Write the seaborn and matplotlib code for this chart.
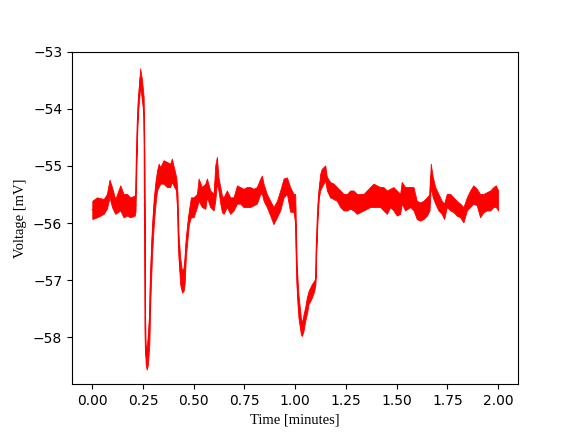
import numpy as np
import pandas as pd
import matplotlib
matplotlib.use("Agg")
import matplotlib.pyplot as plt
import seaborn as sns

# Time in minutes, with the upper and lower edge of the noisy voltage trace (mV)
time_min = [0.000, 0.023, 0.056, 0.072, 0.085, 0.097, 0.113, 0.138, 0.154, 0.171,
            0.187, 0.209, 0.213, 0.220, 0.225, 0.232, 0.236, 0.245, 0.253, 0.256,
            0.260, 0.263, 0.268, 0.274, 0.281, 0.286, 0.294, 0.302, 0.310, 0.319,
            0.327, 0.335, 0.351, 0.368, 0.384, 0.392, 0.404, 0.414, 0.420, 0.425,
            0.433, 0.442, 0.450, 0.455, 0.461, 0.470, 0.476, 0.486, 0.499, 0.516,
            0.524, 0.540, 0.557, 0.565, 0.581, 0.598, 0.606, 0.614, 0.622, 0.631,
            0.639, 0.647, 0.663, 0.680, 0.696, 0.713, 0.729, 0.745, 0.762, 0.778,
            0.795, 0.811, 0.828, 0.836, 0.844, 0.860, 0.877, 0.893, 0.910, 0.926,
            0.943, 0.959, 0.975, 0.992, 1.000, 1.008, 1.016, 1.028, 1.033, 1.041,
            1.049, 1.057, 1.066, 1.074, 1.082, 1.094, 1.100, 1.103, 1.107, 1.112,
            1.117, 1.123, 1.131, 1.140, 1.148, 1.156, 1.172, 1.189, 1.205, 1.222,
            1.238, 1.255, 1.271, 1.287, 1.304, 1.320, 1.337, 1.353, 1.369, 1.386,
            1.402, 1.419, 1.435, 1.452, 1.468, 1.484, 1.501, 1.517, 1.525, 1.542,
            1.567, 1.583, 1.599, 1.616, 1.632, 1.649, 1.662, 1.668, 1.678, 1.690,
            1.706, 1.722, 1.734, 1.747, 1.764, 1.780, 1.796, 1.813, 1.829, 1.846,
            1.862, 1.878, 1.895, 1.911, 1.928, 1.944, 1.961, 1.977, 1.989, 2.000]

voltage_high = [-55.61, -55.55, -55.58, -55.49, -55.24, -55.37, -55.58, -55.34, -55.49, -55.49,
                -55.55, -55.52, -55.43, -54.37, -53.85, -53.49, -53.29, -53.49, -53.79, -54.49,
                -57.60, -58.13, -58.20, -57.95, -57.54, -56.78, -56.08, -55.61, -55.31, -55.08,
                -54.96, -55.02, -54.90, -54.93, -54.96, -54.87, -55.05, -55.20, -55.49, -56.19,
                -56.60, -56.84, -56.78, -56.60, -56.25, -55.96, -55.78, -55.55, -55.55, -55.49,
                -55.22, -55.37, -55.31, -55.22, -55.43, -55.49, -54.99, -54.84, -55.20, -55.37,
                -55.52, -55.55, -55.43, -55.55, -55.55, -55.34, -55.37, -55.40, -55.37, -55.37,
                -55.40, -55.37, -55.22, -55.17, -55.31, -55.49, -55.61, -55.72, -55.61, -55.43,
                -55.22, -55.20, -55.37, -55.49, -55.49, -56.78, -57.25, -57.66, -57.75, -57.60,
                -57.48, -57.31, -57.19, -57.13, -57.07, -57.01, -56.96, -56.49, -56.02, -55.61,
                -55.37, -55.14, -55.05, -55.02, -54.99, -55.19, -55.28, -55.31, -55.37, -55.43,
                -55.49, -55.49, -55.43, -55.43, -55.49, -55.49, -55.49, -55.43, -55.37, -55.31,
                -55.34, -55.37, -55.37, -55.43, -55.40, -55.37, -55.43, -55.49, -55.28, -55.37,
                -55.37, -55.37, -55.61, -55.64, -55.61, -55.55, -55.49, -54.96, -55.19, -55.37,
                -55.49, -55.61, -55.66, -55.49, -55.49, -55.55, -55.61, -55.66, -55.72, -55.55,
                -55.43, -55.34, -55.40, -55.49, -55.49, -55.46, -55.43, -55.37, -55.34, -55.43]

voltage_low = [-55.93, -55.90, -55.84, -55.75, -55.55, -55.72, -55.84, -55.78, -55.90, -55.87,
               -55.90, -55.87, -55.80, -54.55, -54.08, -53.79, -53.61, -53.85, -54.14, -54.80,
               -58.10, -58.48, -58.57, -58.48, -58.13, -57.37, -56.60, -56.08, -55.72, -55.43,
               -55.37, -55.31, -55.31, -55.37, -55.37, -55.28, -55.37, -55.43, -55.90, -56.60,
               -57.07, -57.22, -57.19, -57.07, -56.60, -56.25, -56.02, -55.90, -55.90, -55.72,
               -55.61, -55.72, -55.75, -55.55, -55.72, -55.78, -55.61, -55.31, -55.43, -55.66,
               -55.81, -55.84, -55.72, -55.84, -55.78, -55.66, -55.66, -55.72, -55.72, -55.72,
               -55.69, -55.66, -55.49, -55.49, -55.61, -55.72, -55.87, -56.02, -55.90, -55.78,
               -55.55, -55.49, -55.80, -55.81, -56.00, -57.19, -57.66, -57.95, -57.98, -57.89,
               -57.72, -57.60, -57.42, -57.37, -57.31, -57.19, -57.07, -56.60, -56.20, -55.80,
               -55.55, -55.43, -55.37, -55.31, -55.25, -55.43, -55.55, -55.58, -55.61, -55.72,
               -55.78, -55.78, -55.75, -55.78, -55.84, -55.81, -55.78, -55.75, -55.72, -55.72,
               -55.72, -55.72, -55.78, -55.84, -55.72, -55.78, -55.87, -55.84, -55.66, -55.78,
               -55.72, -55.78, -55.93, -55.96, -55.93, -55.87, -55.78, -55.37, -55.55, -55.66,
               -55.78, -55.84, -55.93, -55.72, -55.78, -55.81, -55.87, -55.90, -55.99, -55.78,
               -55.72, -55.66, -55.69, -55.90, -55.81, -55.78, -55.78, -55.72, -55.72, -55.78]

df = pd.DataFrame({
    "t": time_min + time_min,
    "v": voltage_high + voltage_low,
})

fig, ax = plt.subplots(figsize=(5.76, 4.32), dpi=100)
sns.lineplot(data=df, x="t", y="v", estimator="mean", errorbar=("pi", 100),
             color="red", linewidth=0.8, err_kws={"alpha": 1.0, "linewidth": 0.6,
                                                   "edgecolor": "red"}, ax=ax)

ax.set_xlim(-0.1, 2.1)
ax.set_ylim(-58.83, -53.0)
ax.set_xticks([0.0, 0.25, 0.5, 0.75, 1.0, 1.25, 1.5, 1.75, 2.0])
ax.set_xlabel("Time [minutes]", family="Liberation Serif", fontsize=10.5)
ax.set_ylabel("Voltage [mV]", family="Liberation Serif", fontsize=10.5)

fig.savefig("out.png", dpi=100)
